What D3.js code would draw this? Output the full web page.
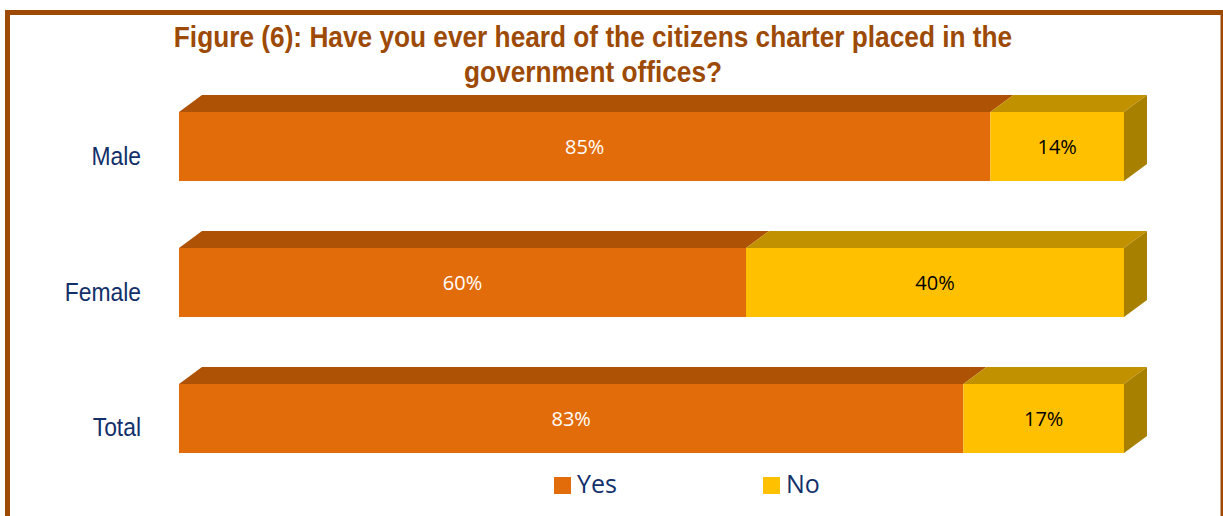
<!DOCTYPE html>
<html>
<head>
<meta charset="utf-8">
<script src="https://cdn.jsdelivr.net/npm/d3@7"></script>
<style>
  html, body { margin: 0; padding: 0; background: #fff; }
  svg { display: block; }
</style>
</head>
<body>
<svg id="chart" width="1223" height="516"></svg>
<script>
// Survey results: awareness of the citizens charter, by gender
const categories = ["Male", "Female", "Total"];
const yesValues = [85, 60, 83];
const noValues = [14, 40, 17];
const seriesNames = ["Yes", "No"];
const titleLines = [
  "Figure (6): Have you ever heard of the citizens charter placed in the",
  "government offices?"
];

const W = 1223, H = 516;
const svg = d3.select("#chart");

const colors = {
  Yes: { front: "#E36C0A", top: "#AE5206", side: "#8E4405", text: "#ffffff" },
  No:  { front: "#FFC000", top: "#C29100", side: "#A88000", text: "#000000" }
};
const navy = "#12306A";
const brown = "#9C4A06";
const depth = { dx: 23, dy: -17 };
const narrowFont = "'Liberation Sans Narrow', 'Arial Narrow', 'Liberation Sans', Arial, sans-serif";
const narrowScale = 0.875;   // horizontal squeeze to give a condensed face

// Rows of the table, each normalised to 100% by the stack offset
const rows = categories.map((c, i) => ({ category: c, Yes: yesValues[i], No: noValues[i] }));
const stacked = d3.stack().keys(seriesNames).offset(d3.stackOffsetExpand)(rows);

const x = d3.scaleLinear().domain([0, 1]).range([179, 1124]);
const y = d3.scaleBand().domain(categories).range([112, 453]).paddingInner(0.4926).paddingOuter(0);
const bh = y.bandwidth();

// Frame
svg.append("rect")
  .attr("x", 7.5).attr("y", 12.5)
  .attr("width", 1215.5).attr("height", H)
  .attr("fill", "none").attr("stroke", brown).attr("stroke-width", 5);

// Title, two centred lines in a condensed bold face
titleLines.forEach((t, i) => {
  svg.append("text")
    .attr("transform", `translate(593,${47 + i * 35}) scale(${narrowScale},1)`)
    .attr("text-anchor", "middle")
    .attr("fill", brown)
    .attr("font-family", narrowFont)
    .attr("font-weight", "bold")
    .attr("font-size", 30)
    .text(t);
});

// 3D stacked bars: top face, front face, then right side face on the last segment
const g = svg.append("g");
stacked.forEach((layer, li) => {
  const key = layer.key;
  const c = colors[key];
  layer.forEach((d, i) => {
    const cat = categories[i];
    const x0 = x(d[0]), x1 = x(d[1]);
    const y0 = y(cat);
    // top face
    g.append("path")
      .attr("d", `M${x0},${y0}L${x0 + depth.dx},${y0 + depth.dy}L${x1 + depth.dx},${y0 + depth.dy}L${x1},${y0}Z`)
      .attr("fill", c.top);
    // front face
    g.append("rect")
      .attr("x", x0).attr("y", y0)
      .attr("width", x1 - x0).attr("height", bh)
      .attr("fill", c.front);
    if (li === stacked.length - 1) {
      g.append("path")
        .attr("d", `M${x1},${y0}L${x1 + depth.dx},${y0 + depth.dy}L${x1 + depth.dx},${y0 + bh + depth.dy}L${x1},${y0 + bh}Z`)
        .attr("fill", c.side);
    }
    // value label
    const val = key === "Yes" ? yesValues[i] : noValues[i];
    g.append("text")
      .attr("x", (x0 + x1) / 2)
      .attr("y", y0 + bh / 2)
      .attr("dy", "0.36em")
      .attr("text-anchor", "middle")
      .attr("fill", c.text)
      .attr("font-family", "'Open Sans', 'Noto Sans', sans-serif")
      .attr("font-size", 20)
      .text(val + "%");
  });
});

// Category axis labels
svg.append("g").selectAll("text")
  .data(categories)
  .join("text")
  .attr("transform", d => `translate(141,${y(d) + bh / 2 + 18}) scale(0.88,1)`)
  .attr("text-anchor", "end")
  .attr("fill", navy)
  .attr("font-family", narrowFont)
  .attr("font-size", 26)
  .text(d => d);

// Legend
const legendX = [554, 763];
const legend = svg.append("g");
seriesNames.forEach((s, i) => {
  legend.append("rect")
    .attr("x", legendX[i]).attr("y", 477)
    .attr("width", 17).attr("height", 17)
    .attr("fill", colors[s].front);
  legend.append("text")
    .attr("x", legendX[i] + 23).attr("y", 493)
    .attr("fill", navy)
    .attr("font-family", "'Open Sans', 'Noto Sans', sans-serif")
    .attr("font-size", 25)
    .text(s);
});
</script>
</body>
</html>
